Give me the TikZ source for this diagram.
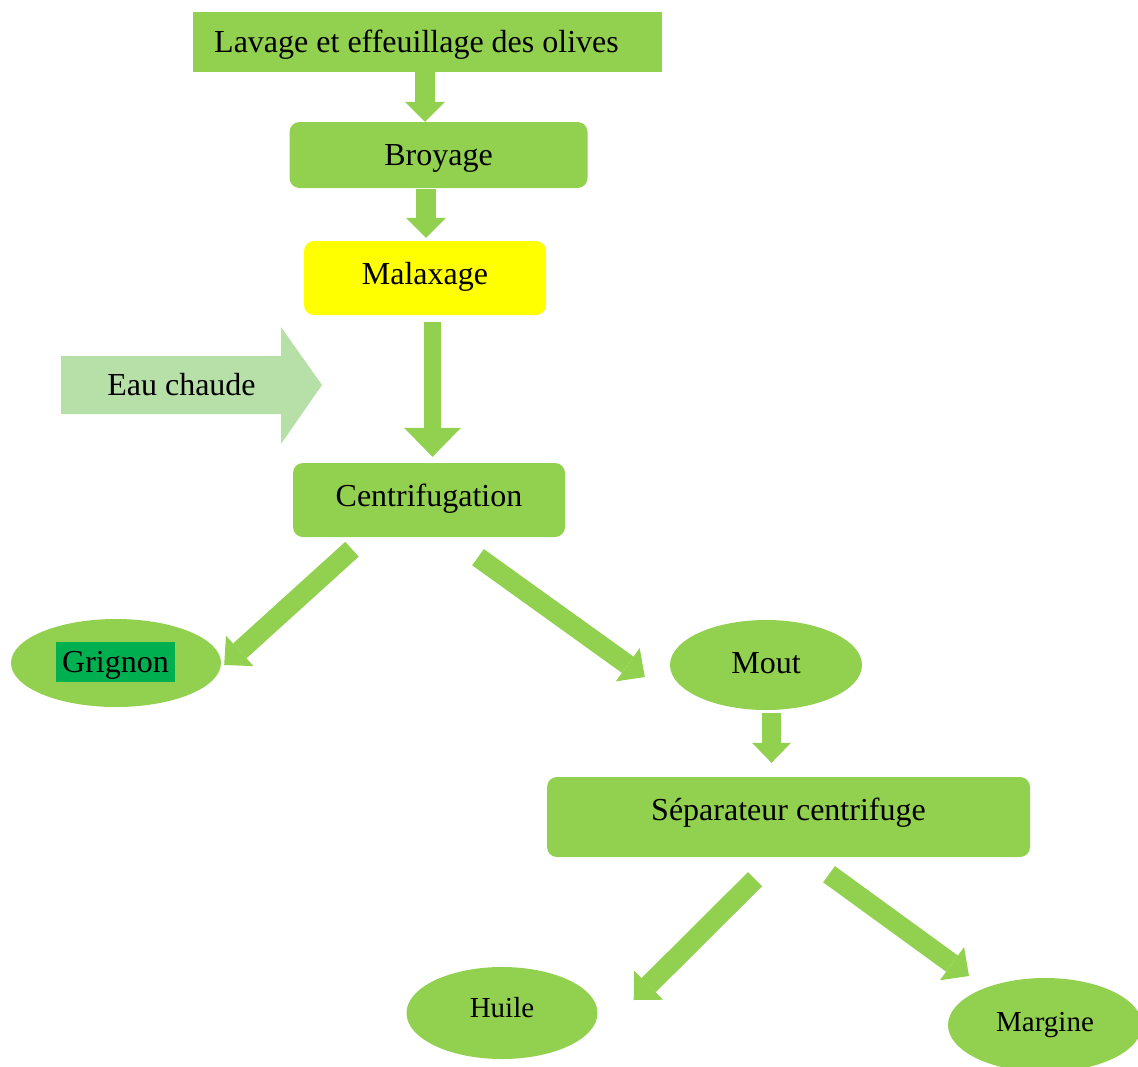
\documentclass[tikz,border=0pt]{standalone}
\usepackage{fontspec}
\setmainfont{Liberation Serif}
\usetikzlibrary{arrows.meta,calc,shapes.geometric}

\definecolor{leaf}{HTML}{92D050}
\definecolor{paleleaf}{HTML}{B7E0A8}
\definecolor{mark}{HTML}{00B050}
\definecolor{lemon}{HTML}{FFFF00}

\tikzset{
  txt/.style={font=\fontsize{32}{38}\selectfont, text height=21pt, text depth=0pt},
  smalltxt/.style={font=\fontsize{29}{35}\selectfont, text height=19pt},
  procbox/.style={txt, rectangle, rounded corners=10pt, fill=leaf, inner sep=0pt},
  oval/.style={ellipse, fill=leaf, inner sep=0pt},
  flow/.style={draw=leaf, line width=20pt,
    -{Triangle[length=20pt,width=40pt,line width=0pt]}},
  flowslim/.style={draw=leaf, line width=17pt,
    -{Triangle[length=29pt,width=57pt,line width=0pt]}},
  slant/.style={draw=leaf, line width=20pt,
    -{Triangle[length=21pt,width=41pt,line width=0pt]}}
}

\begin{document}
\begin{tikzpicture}[x=1pt,y=-1pt]
\path[use as bounding box] (0,0) rectangle (1138,1066);

% process steps
\node[txt, fill=leaf, rectangle, inner sep=0pt,
      minimum width=469pt, minimum height=60pt]
      (lavage) at (427.5,42) {Lavage et effeuillage des olives\kern22pt};
\node[procbox, minimum width=298pt, minimum height=66pt] (broyage) at (438.5,155) {Broyage};
\node[procbox, fill=lemon, minimum width=242pt, minimum height=74pt, text depth=8pt] (malax) at (425,278) {Malaxage};
\node[procbox, minimum width=272pt, minimum height=74pt, text depth=8pt] (centri) at (429,500) {Centrifugation};
\node[procbox, minimum width=483pt, minimum height=80pt, text depth=14pt] (sep) at (788.5,817) {Séparateur centrifuge};

% products
\node[oval, minimum width=210pt, minimum height=88pt] (grignon) at (116,663) {};
\node[txt, fill=mark, inner xsep=6pt, inner ysep=0pt, minimum height=40pt] (grignonlbl) at (115.5,662) {Grignon};
\node[oval, txt, minimum width=192pt, minimum height=90pt, text depth=5pt] (mout) at (766,665) {Mout};
\node[oval, smalltxt, minimum width=191pt, minimum height=92pt, text depth=11pt] (huile) at (502,1013) {Huile};
\node[oval, smalltxt, minimum width=194pt, minimum height=94pt, text depth=6pt] (margine) at (1045,1025) {Margine};

% hot water input
\fill[paleleaf] (61,356) -- (281,356) -- (281,327) -- (322,385) -- (281,444) -- (281,414) -- (61,414) -- cycle;
\node[txt] (eau) at (181.5,385) {Eau chaude};

% vertical flow arrows
\draw[flow] ($(lavage.south)+(-2.5,0)$) coordinate (a1) -- (a1 |- broyage.north);
\draw[flow] ($(broyage.south)+(-12.5,1)$) coordinate (a2) -- ($(a2 |- malax.north)+(0,-3)$);
\draw[flowslim] ($(malax.south)+(7.5,7)$) coordinate (a3) -- ($(a3 |- centri.north)+(0,-6)$);
\draw[draw=leaf, line width=19pt, -{Triangle[length=20pt,width=39pt,line width=0pt]}]
  ($(mout.south)+(5.5,3)$) coordinate (a4) -- ($(a4 |- sep.north)+(0,-14)$);

% branching arrows
\draw[slant] ($(centri.south)+(-77,12)$) -- ($(grignon.east)+(3,2)$);
\draw[slant] ($(centri.south)+(49,20)$) -- ($(mout.west)+(-25,12)$);
\draw[slant] ($(sep.south)+(-33.5,22)$) -- ($(huile.east)+(36,-13)$);
\draw[slant] ($(sep.south)+(40.5,17)$) -- ($(margine.center)+(-76,-49)$);
\end{tikzpicture}
\end{document}
